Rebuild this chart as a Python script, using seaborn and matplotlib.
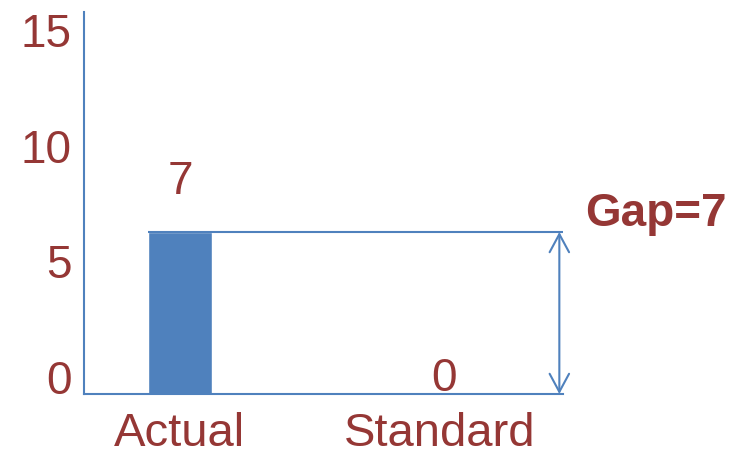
import matplotlib
matplotlib.use("Agg")
import matplotlib.pyplot as plt
import seaborn as sns
import pandas as pd

categories = ["Actual", "Standard"]
values = [7, 0]
yticks = [0, 5, 10, 15]

BLUE = "#4F81BD"
RED = "#953735"

sns.set_theme(style="white")
plt.rcParams["font.family"] = ["Liberation Sans", "DejaVu Sans"]

df = pd.DataFrame({"category": categories, "value": values})

fig = plt.figure(figsize=(7.48, 4.55), dpi=100)
ax = fig.add_axes([0.1123, 0.134, 0.640, 0.8396])

sns.barplot(data=df, x="category", y="value", color=BLUE, saturation=1,
            width=0.246, ax=ax)

ax.set_xlim(-0.369, 1.473)
ax.set_ylim(0, 16.5)
ax.set_yticks(yticks)
ax.set_xlabel("")
ax.set_ylabel("")

for side in ["top", "right"]:
    ax.spines[side].set_visible(False)
for side in ["left", "bottom"]:
    ax.spines[side].set_color(BLUE)
    ax.spines[side].set_linewidth(1.5)

ax.tick_params(axis="y", length=0, pad=9, labelsize=33, labelcolor=RED)
ax.tick_params(axis="x", length=0, pad=13, labelsize=34, labelcolor=RED)
for lbl in ax.get_yticklabels():
    lbl.set_va("baseline")

# value labels above each bar
for i, v in enumerate(values):
    pad = 27 if v > 0 else 2
    ax.annotate(str(v), (i, v), xytext=(3 if v == 0 else 0, pad),
                textcoords="offset points",
                ha="center", va="baseline", fontsize=33, color=RED)

# gap indicator between the actual value and the standard
gap = values[0] - values[1]
bar_left = 0 - 0.246 / 2
arrow_x = 1.46
ax.hlines(values[0], bar_left, 1.473, color=BLUE, lw=1.5)
ax.annotate("", xy=(arrow_x, values[1]), xytext=(arrow_x, values[0]),
            arrowprops=dict(arrowstyle="<->,head_length=0.65,head_width=0.35",
                            color=BLUE, lw=1.5, shrinkA=0, shrinkB=0,
                            mutation_scale=20),
            annotation_clip=False)
ax.annotate(f"Gap={gap}", (1.558, values[0]), xytext=(0, 4),
            textcoords="offset points", ha="left", va="baseline",
            fontsize=33, fontweight="bold", color=RED, annotation_clip=False)

fig.savefig("out.png", dpi=100)
